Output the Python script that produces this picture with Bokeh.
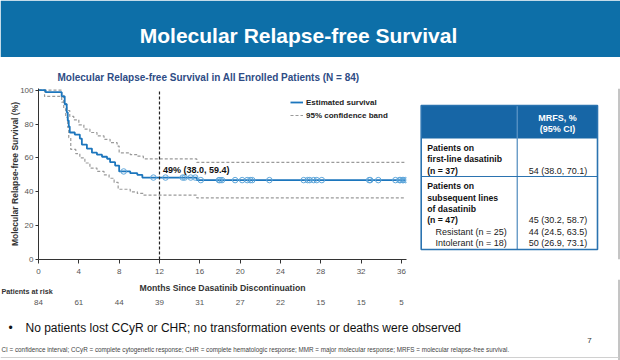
from bokeh.plotting import figure
from bokeh.models import Range1d, FixedTicker, Legend, LegendItem
from bokeh.layouts import column, row
from bokeh.embed import file_html
from bokeh.resources import INLINE
from bokeh.core.properties import value
import numpy as np

FONT = "Liberation Sans"

# ---------------- data ----------------
slide_title = "Molecular Relapse-free Survival"
chart_title = "Molecular Relapse-free Survival in All Enrolled Patients (N = 84)"
x_label = "Months Since Dasatinib Discontinuation"
y_label = "Molecular Relapse-free Survival (%)"
risk_title = "Patients at risk"

month_ticks = [0, 4, 8, 12, 16, 20, 24, 28, 32, 36]
at_risk = [84, 61, 44, 39, 31, 27, 22, 15, 15, 5]
y_ticks = [0, 20, 40, 60, 80, 100]

km_t = [0, 0.7, 2.3, 2.6, 2.8, 2.9, 3.0, 3.1, 3.6, 4.1, 4.3, 4.8, 5.3, 5.8, 6.3, 6.8,
        7.1, 7.6, 8.0, 9.1, 9.8, 10.3, 15.7]
km_v = [100, 98.8, 96.4, 91.7, 86.9, 82.1, 78.6, 75.0, 73.8, 71.4, 67.9, 65.5, 63.1,
        61.9, 60.7, 59.5, 57.5, 55.5, 52.0, 51.0, 50.0, 48.4, 46.9]
upper_t = [0, 2.3, 2.5, 2.8, 3.1, 3.5, 4.0, 4.5, 5.1, 5.8, 6.5, 7.1, 7.8, 8.0, 9.1,
           9.8, 10.4, 15.7]
upper_v = [100, 97, 92, 88, 84.5, 82.5, 79.5, 77, 75, 73, 71, 69, 67, 63, 62, 61, 59.4, 57.4]
lower_t = [0, 0.6, 2.3, 2.5, 2.7, 2.9, 3.0, 3.2, 3.7, 4.1, 4.6, 5.1, 5.8, 6.5, 7.0,
           7.5, 7.9, 9.1, 9.8, 10.4, 15.7]
lower_v = [100, 96.3, 93, 89, 84, 78, 72, 65, 62.5, 60, 57, 54, 52, 50, 48, 45.5, 41.5,
           40, 39, 38.0, 36.4]
follow_up_end = 36.4
censor_t = [8.45, 11.4, 12.6, 14.3, 14.5, 15.1, 15.55, 16.1, 17.9, 18.0, 18.2, 19.5,
            20.2, 20.7, 21.0, 21.2, 22.9, 26.3, 26.7, 26.9, 27.3, 27.6, 28.1, 32.8,
            32.9, 33.7, 35.4, 35.8, 35.9, 36.1, 36.2, 36.4]

landmark_month = 12
landmark_est = 49
landmark_text = "49% (38.0, 59.4)"
legend_labels = ["Estimated survival", "95% confidence band"]

table_head = ["MRFS, %", "(95% CI)"]
first_line_label = ["Patients on", "first-line dasatinib", "(n = 37)"]
first_line_value = "54 (38.0, 70.1)"
subseq_label = ["Patients on", "subsequent lines", "of dasatinib", "(n = 47)"]
subseq_value = "45 (30.2, 58.7)"
subgroup_label = ["Resistant (n = 25)", "Intolerant (n = 18)"]
subgroup_value = ["44 (24.5, 63.5)", "50 (26.9, 73.1)"]

bullet_text = "No patients lost CCyR or CHR; no transformation events or deaths were observed"
footnote = ("CI = confidence interval; CCyR = complete cytogenetic response; CHR = complete "
            "hematologic response; MMR = major molecular response; MRFS = molecular "
            "relapse-free survival.")
page_no = "7"

# ---------------- colours ----------------
BAND = "#0D6FA8"
KM_BLUE = "#1C76BD"
CENS = "#5EA6DA"
CI_GREY = "#9A9A9A"
TAB_HEAD = "#1766A6"
TAB_LINE = "#2B73B0"

# ---------------- layout geometry (page pixels) ----------------
W, H = 620, 360
HEAD_H = 57
KM_W = 412
ROW_H = 222
FRAME_L, FRAME_R, FRAME_T, FRAME_B = 38, 406, 88, 259
X_END = 36.5


def decor(w, h, px0, py0, **kw):
    f = figure(width=w, height=h, x_range=Range1d(px0, px0 + w),
               y_range=Range1d(py0 + h, py0), x_axis_type=None, y_axis_type=None,
               output_backend="svg", toolbar_location=None, min_border=0,
               outline_line_color=None, **kw)
    f.grid.visible = False
    return f


def txt(f, x, y, s, size, color="#222222", style="normal", align="left", **kw):
    f.text(x=x, y=y, text=s, text_font=value(FONT), text_font_size=size,
           text_font_style=style, text_color=color, text_align=align,
           text_baseline="middle", **kw)


# ---------------- header ----------------
head = decor(W, HEAD_H, 0, 0)
head.quad(left=0, right=W, top=0, bottom=HEAD_H, fill_color=BAND, line_color=None)
txt(head, [298], [35], [slide_title], "21px", "white", "bold", "center")

# ---------------- KM chart ----------------
p = figure(width=KM_W, height=ROW_H, x_range=Range1d(0, X_END), y_range=Range1d(0, 101),
           output_backend="svg", toolbar_location=None, outline_line_color=None,
           min_border_left=FRAME_L, min_border_right=KM_W - FRAME_R,
           min_border_top=FRAME_T - HEAD_H, min_border_bottom=HEAD_H + ROW_H - FRAME_B)
p.grid.visible = False
p.title.text = chart_title
p.title.text_font = FONT
p.title.text_font_size = "10px"
p.title.text_font_style = "bold"
p.title.text_color = "#2E4C85"
p.title.align = "left"
p.title.offset = 19
p.title.standoff = 12

for ax in (p.xaxis[0], p.yaxis[0]):
    ax.axis_line_color = "#333333"
    ax.major_tick_line_color = "#333333"
    ax.minor_tick_line_color = None
    ax.major_tick_in = 0
    ax.major_tick_out = 3
    ax.major_label_text_font = FONT
    ax.major_label_text_font_size = "8px"
    ax.major_label_text_color = "#555555"
    ax.axis_label_text_font = FONT
    ax.axis_label_text_font_style = "bold"
    ax.axis_label_text_color = "#333333"

p.xaxis.ticker = FixedTicker(ticks=month_ticks)
p.xaxis.major_tick_out = 4
p.xaxis.major_label_standoff = 5

p.yaxis.ticker = FixedTicker(ticks=y_ticks)
p.yaxis.axis_label = y_label
p.yaxis.axis_label_text_font_size = "8.5px"
p.yaxis.major_label_standoff = 2
p.yaxis.axis_label_standoff = -3


def step_xy(t, v):
    return list(t) + [follow_up_end], list(v) + [v[-1]]


ux, uy = step_xy(upper_t, upper_v)
lx, ly = step_xy(lower_t, lower_v)
kx, ky = step_xy(km_t, km_v)

ci_u = p.step(ux, uy, mode="after", line_color=CI_GREY, line_width=1.2, line_dash="3 2")
p.step(lx, ly, mode="after", line_color=CI_GREY, line_width=1.2, line_dash="3 2")
km = p.step(kx, ky, mode="after", line_color=KM_BLUE, line_width=1.8)

idx = np.searchsorted(np.array(km_t), np.array(censor_t), side="right") - 1
censor_v = [km_v[i] for i in idx]
p.scatter(censor_t, censor_v, marker="circle", size=5.5, fill_color=None,
          line_color=CENS, line_width=1)

p.segment(x0=[landmark_month], y0=[0], x1=[landmark_month], y1=[100],
          line_color="#222222", line_width=1.2, line_dash="3 2")
txt(p, [landmark_month + 0.35], [landmark_est + 3.7], [landmark_text], "9px",
    "#111111", "bold")

legend = Legend(items=[LegendItem(label=legend_labels[0], renderers=[km]),
                       LegendItem(label=legend_labels[1], renderers=[ci_u])],
                location=(252, 138), padding=0, margin=0, spacing=1,
                glyph_width=13, glyph_height=12, label_height=12, label_standoff=3,
                label_text_font=FONT, label_text_font_size="8px",
                label_text_font_style="bold", label_text_color="#222222",
                border_line_color=None, background_fill_alpha=0)
p.add_layout(legend)

# ---------------- table (frame aligned with the chart frame) ----------------
tab = figure(width=W - KM_W, height=ROW_H, x_range=Range1d(KM_W, W),
             y_range=Range1d(FRAME_B, FRAME_T), x_axis_type=None, y_axis_type=None,
             output_backend="svg", toolbar_location=None, outline_line_color=None,
             min_border_left=0, min_border_right=0,
             min_border_top=FRAME_T - HEAD_H, min_border_bottom=HEAD_H + ROW_H - FRAME_B)
tab.grid.visible = False
tl, tr, tt, tb = 420.7, 597.0, 105.0, 249.0
col_x, head_b, row_b = 516.7, 138.0, 176.0
tab.quad(left=tl, right=tr, top=tt, bottom=tb, fill_color="white", line_color=None)
tab.quad(left=tl, right=tr, top=tt, bottom=head_b, fill_color=TAB_HEAD, line_color=None)
tab.segment(x0=[col_x], y0=[tt], x1=[col_x], y1=[head_b], line_color="#6FA3D0", line_width=1)
tab.segment(x0=[col_x, tl], y0=[head_b, row_b], x1=[col_x, tr], y1=[tb, row_b],
            line_color=TAB_LINE, line_width=1)
tab.quad(left=tl, right=tr, top=tt, bottom=tb, fill_color=None, line_color=TAB_LINE,
         line_width=1.6)
txt(tab, [557, 557], [117, 128.5], table_head, "9px", "white", "bold", "center")

pitch = 11.4
y1 = [147.3 + i * pitch for i in range(len(first_line_label))]
txt(tab, [426.7] * len(y1), y1, first_line_label, "8.7px", "#111111", "bold")
txt(tab, [586.7], [y1[-1]], [first_line_value], "9px", "#222222", "normal", "right")
y2 = [185.7 + i * pitch for i in range(len(subseq_label))]
txt(tab, [426.7] * len(y2), y2, subseq_label, "8.7px", "#111111", "bold")
txt(tab, [586.7], [y2[-1]], [subseq_value], "9px", "#222222", "normal", "right")
y3 = [y2[-1] + (i + 1) * pitch for i in range(len(subgroup_label))]
txt(tab, [435] * len(y3), y3, subgroup_label, "9px", "#222222", "normal")
txt(tab, [586.7] * len(y3), y3, subgroup_value, "9px", "#222222", "normal", "right")
tab.segment(x0=[618.5], y0=[FRAME_T], x1=[618.5], y1=[FRAME_B], line_color="#8A8A8A",
            line_width=1)

# ---------------- bottom: axis title, numbers at risk, bullet, footnote ----------------
BOT_Y0 = HEAD_H + ROW_H
bot = decor(W, H - BOT_Y0, 0, BOT_Y0)
ppm = (FRAME_R - FRAME_L) / X_END
bot.extra_x_ranges = {"months": Range1d(-FRAME_L / ppm, (W - FRAME_L) / ppm)}
txt(bot, [X_END / 2], [287], [x_label], "8.7px", "#333333", "bold", "center",
    x_range_name="months")
txt(bot, [1], [291], [risk_title], "7.2px", "#333333", "bold")
txt(bot, month_ticks, [302] * len(month_ticks), [str(n) for n in at_risk], "8px",
    "#555555", "normal", "center", x_range_name="months")
txt(bot, [10], [327], ["\u2022"], "12px", "#111111", "normal", "center")
txt(bot, [25], [327], [bullet_text], "12px", "#111111")
txt(bot, [1], [349], [footnote], "6.3px", "#444444")
txt(bot, [589], [340], [page_no], "8px", "#333333", "normal", "center")
bot.segment(x0=[618.5], y0=[BOT_Y0], x1=[618.5], y1=[H], line_color="#8A8A8A", line_width=1)
bot.segment(x0=[0], y0=[357], x1=[618], y1=[357], line_color="#D0D0D0", line_width=1)

layout = column(head, row(p, tab, spacing=0), bot, spacing=0)
open("out.html", "w").write(file_html(layout, INLINE))
